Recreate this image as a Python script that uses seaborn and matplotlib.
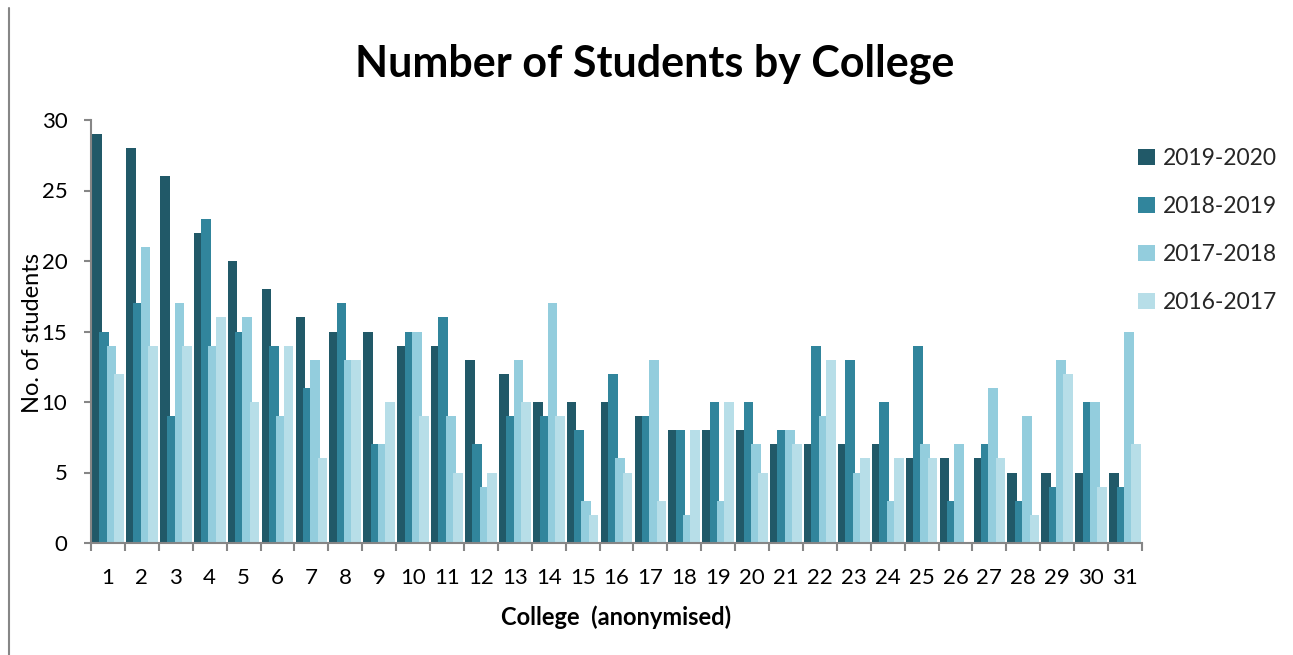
import matplotlib
matplotlib.use("Agg")
import matplotlib.pyplot as plt
from matplotlib.patches import Patch
from matplotlib.lines import Line2D
import numpy as np
import pandas as pd
import seaborn as sns

# ---------------- data ----------------
colleges = [str(i) for i in range(1, 32)]
years = ["2019-2020", "2018-2019", "2017-2018", "2016-2017"]
y2019_2020 = [29, 28, 26, 22, 20, 18, 16, 15, 15, 14, 14, 13, 12, 10, 10, 10,
              9, 8, 8, 8, 7, 7, 7, 7, 6, 6, 6, 5, 5, 5, 5]
y2018_2019 = [15, 17, 9, 23, 15, 14, 11, 17, 7, 15, 16, 7, 9, 9, 8, 12,
              9, 8, 10, 10, 8, 14, 13, 10, 14, 3, 7, 3, 4, 10, 4]
y2017_2018 = [14, 21, 17, 14, 16, 9, 13, 13, 7, 15, 9, 4, 13, 17, 3, 6,
              13, 2, 3, 7, 8, 9, 5, 3, 7, 7, 11, 9, 13, 10, 15]
y2016_2017 = [12, 14, 14, 16, 10, 14, 6, 13, 10, 9, 5, 5, 10, 9, 2, 5,
              3, 8, 10, 5, 7, 13, 6, 6, 6, 0, 6, 2, 12, 4, 7]
yticks = [0, 5, 10, 15, 20, 25, 30]
colors = ["#215968", "#31859C", "#93CDDD", "#B7DEE8"]

series = [y2019_2020, y2018_2019, y2017_2018, y2016_2017]
df = pd.DataFrame({
    "College": colleges * len(years),
    "Year": [y for y in years for _ in colleges],
    "Students": [v for s in series for v in s],
})

# ---------------- style ----------------
sns.set_theme(style="white")
plt.rcParams["font.family"] = ["Lato", "DejaVu Sans"]

W, H = 1293, 655
fig = plt.figure(figsize=(W / 100, H / 100), dpi=100)
L, R, T, B = 91, 1142, 120, 543
ax = fig.add_axes([L / W, 1 - B / H, (R - L) / W, (B - T) / H])

sns.barplot(data=df, x="College", y="Students", hue="Year",
            order=colleges, hue_order=years, palette=colors,
            width=0.866, saturation=1, linewidth=0, legend=False, ax=ax)

# Excel-style overlapping bars: widen each bar about its centre
for p in ax.patches:
    c = p.get_x() + p.get_width() / 2
    nw = p.get_width() * 0.286 / 0.2165
    p.set_x(c - nw / 2)
    p.set_width(nw)

ax.set_xlim(-0.5, len(colleges) - 0.5)
ax.set_ylim(0, 30)
ax.set_yticks(yticks)

grey = "#868686"
for s in ["top", "right"]:
    ax.spines[s].set_visible(False)
for s in ["left", "bottom"]:
    ax.spines[s].set_color(grey)
    ax.spines[s].set_linewidth(1.5)

ax.tick_params(axis="y", which="major", left=True, length=5, width=1.5,
               color=grey, pad=12, labelsize=16, labelcolor="black")
ax.set_xticks(np.arange(len(colleges)))
ax.set_xticklabels(colleges)
ax.set_xticks(np.arange(len(colleges) + 1) - 0.5, minor=True)
ax.tick_params(axis="x", which="major", bottom=False, length=0, pad=18,
               labelsize=16, labelcolor="black")
ax.tick_params(axis="x", which="minor", bottom=True, length=6, width=1.5,
               color=grey)

ax.set_ylabel("No. of students", fontsize=17, color="black",
              va="baseline")
ax.yaxis.set_label_coords(-0.0495, 0.497)
ax.set_xlabel("College  (anonymised)", fontsize=17, fontweight="bold",
              color="black", va="baseline")
ax.xaxis.set_label_coords(0.5, (B - 625) / (B - T))

fig.text(655 / W, 1 - 77 / H, "Number of Students by College",
         ha="center", va="baseline", fontsize=31, fontweight="bold",
         color="black")

handles = [Patch(facecolor=c, edgecolor="none", label=y)
           for c, y in zip(colors, years)]
fig.legend(handles=handles, loc="upper left",
           bbox_to_anchor=(1117 / W, 1 - 127 / H), frameon=False,
           fontsize=16.5, handlelength=0.76, handleheight=0.7,
           handletextpad=0.33, labelspacing=1.18)

fig.add_artist(Line2D([8.5 / W, 8.5 / W], [0, 1 - 8 / H], color=grey,
                      linewidth=1.5))

fig.savefig("out.png", dpi=100, facecolor="white")
